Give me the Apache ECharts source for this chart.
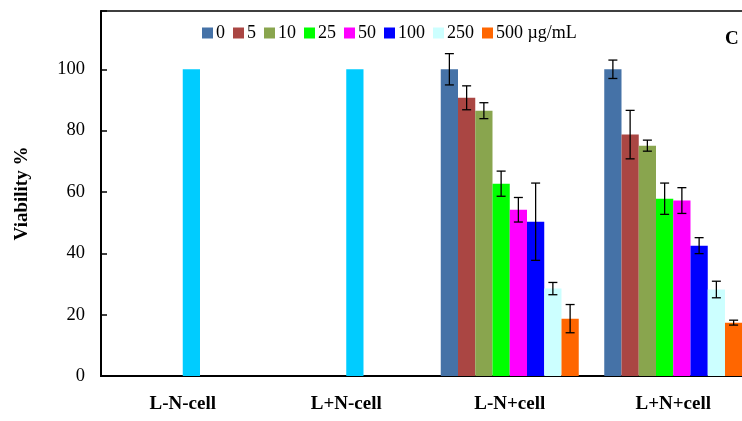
<!DOCTYPE html>
<html><head><meta charset="utf-8">
<script src="https://cdn.jsdelivr.net/npm/echarts@6/dist/echarts.min.js"></script>
<style>html,body{margin:0;padding:0;background:#fff}#c{width:742px;height:421px}</style>
</head><body><div id="c"></div>
<script>
const categories = ['L-N-cell', 'L+N-cell', 'L-N+cell', 'L+N+cell'];
const doses = ['0', '5', '10', '25', '50', '100', '250', '500 µg/mL'];
const colors = ['#4572A7', '#AA4643', '#89A54E', '#00FF00', '#FF00FF', '#0000FF', '#CCFFFF', '#FF6600'];
// viability per dose, for each category
const v0   = [null, null, 100, 100];
const v5   = [null, null, 90.7, 78.7];
const v10  = [null, null, 86.5, 75.1];
const v25  = [null, null, 62.7, 57.8];
const v50  = [null, null, 54.2, 57.2];
const v100 = [null, null, 50.3, 42.5];
const v250 = [null, null, 28.5, 28.2];
const v500 = [null, null, 18.7, 17.4];
// error (±) per dose
const e0   = [null, null, 5.1, 3.0];
const e5   = [null, null, 3.9, 7.9];
const e10  = [null, null, 2.6, 1.8];
const e25  = [null, null, 4.1, 5.1];
const e50  = [null, null, 4.0, 4.2];
const e100 = [null, null, 12.6, 2.6];
const e250 = [null, null, 2.0, 2.7];
const e500 = [null, null, 4.6, 0.8];
// untreated control bars
const control = [100, 100, null, null];
const yTicks = [0, 20, 40, 60, 80, 100];

const values = [v0, v5, v10, v25, v50, v100, v250, v500];
const errors = [e0, e5, e10, e25, e50, e100, e250, e500];
const GAP = 0.156;
const FONT = 'Liberation Serif';

const series = [];
values.forEach((arr, i) => {
  series.push({
    name: doses[i], type: 'bar', data: arr,
    stack: 's' + i,
    barGap: '0%', barCategoryGap: (GAP * 100) + '%',
    itemStyle: { color: colors[i] },
    emphasis: { disabled: true }
  });
});
series.push({
  name: 'control', type: 'bar', data: control, stack: 's4',
  itemStyle: { color: '#00CCFF' }, emphasis: { disabled: true }
});

const errData = [];
values.forEach((arr, i) => {
  arr.forEach((v, c) => {
    if (v != null && errors[i][c] != null) errData.push([c, v, errors[i][c], i]);
  });
});
series.push({
  type: 'custom', name: 'err', silent: true, z: 10,
  data: errData,
  encode: { x: 0, y: 1 },
  renderItem: function (params, api) {
    const c = api.value(0), v = api.value(1), e = api.value(2), i = api.value(3);
    const band = api.size([1, 0])[0];
    const bw = band * (1 - GAP) / 8;
    const cx = api.coord([c, v])[0] + (i - 3.5) * bw;
    const yt = api.coord([c, v + e])[1];
    const yb = api.coord([c, v - e])[1];
    const hw = 4.5;
    const st = { stroke: '#000', lineWidth: 1.3 };
    return {
      type: 'group', children: [
        { type: 'line', shape: { x1: cx, y1: yt, x2: cx, y2: yb }, style: st },
        { type: 'line', shape: { x1: cx - hw, y1: yt, x2: cx + hw, y2: yt }, style: st },
        { type: 'line', shape: { x1: cx - hw, y1: yb, x2: cx + hw, y2: yb }, style: st }
      ]
    };
  }
});

const chart = echarts.init(document.getElementById('c'), null, { renderer: 'canvas' });
chart.setOption({
  animation: false,
  backgroundColor: '#fff',
  grid: { left: 101, width: 654, top: 11, bottom: 45, outerBoundsMode: 'none', containLabel: false, show: true, borderColor: '#000', borderWidth: 1.5, backgroundColor: 'transparent' },
  legend: {
    data: doses, left: 202, top: 24, itemWidth: 11, itemHeight: 11, itemGap: 8,
    icon: 'rect', padding: 0,
    textStyle: { fontFamily: FONT, fontSize: 18, color: '#000', padding: [0, 0, 0, -2] }
  },
  xAxis: {
    type: 'category', data: categories,
    axisLine: { lineStyle: { color: '#000', width: 2 } },
    axisTick: { show: false },
    axisLabel: { fontFamily: FONT, fontWeight: 'bold', fontSize: 19, color: '#000', margin: 19 }
  },
  yAxis: {
    type: 'value', min: 0, max: 119, interval: 20,
    name: 'Viability %', nameLocation: 'middle', nameGap: 69, nameRotate: 90,
    nameTextStyle: { fontFamily: FONT, fontWeight: 'bold', fontSize: 19, color: '#000' },
    axisLine: { show: true, lineStyle: { color: '#000', width: 2 } },
    axisTick: { show: true, inside: true, length: 6, lineStyle: { color: '#000', width: 1.5 } },
    splitLine: { show: false },
    axisLabel: {
      fontFamily: FONT, fontSize: 18.5, color: '#000', margin: 16,
      formatter: v => (yTicks.indexOf(v) >= 0 ? String(v) : '')
    }
  },
  graphic: [{
    type: 'text', left: 725, top: 30,
    style: { text: 'C', font: 'bold 19px "Liberation Serif"', fill: '#000' }
  }],
  series: series
});
</script></body></html>
